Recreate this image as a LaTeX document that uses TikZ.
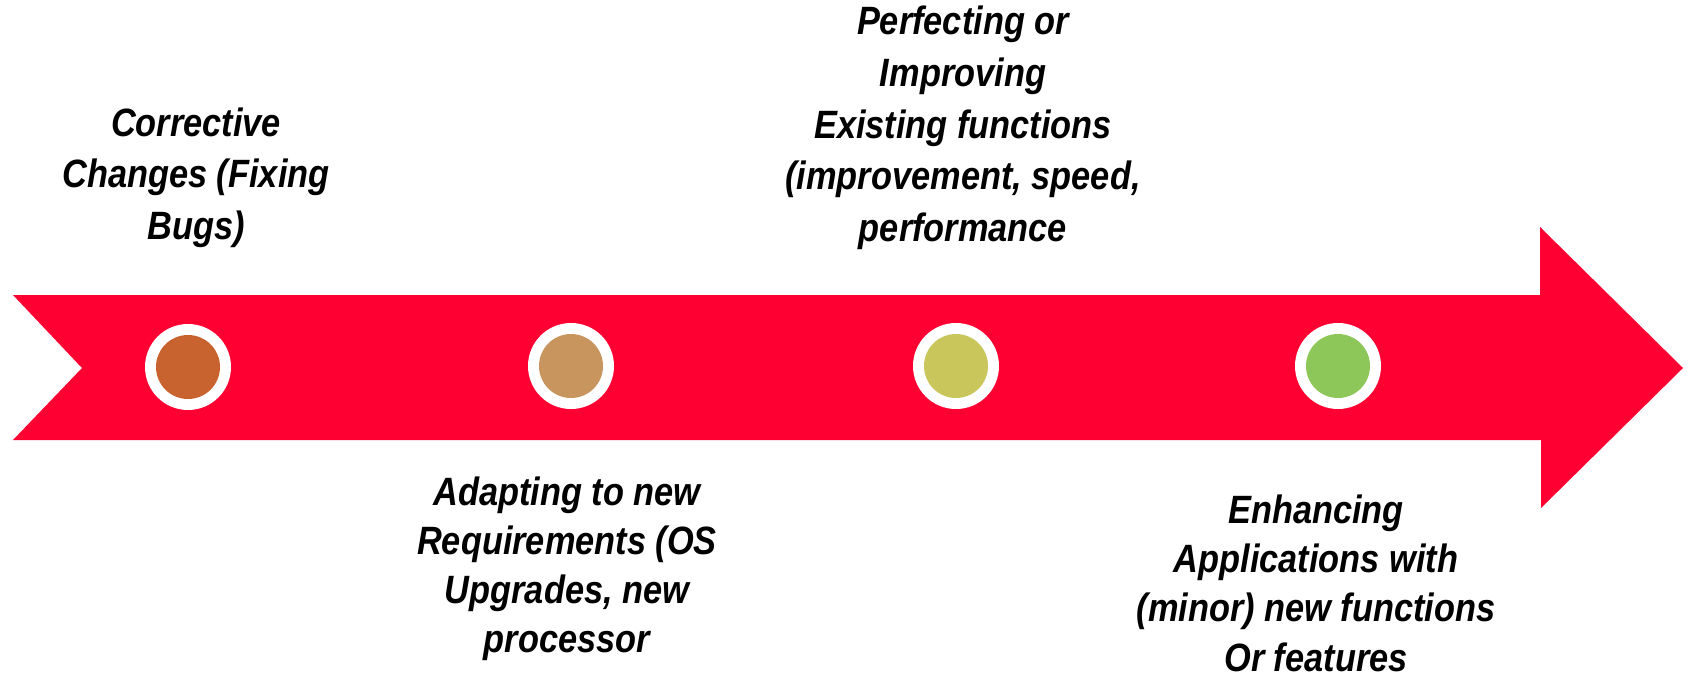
\documentclass[tikz,border=0pt]{standalone}
\usepackage{fontspec}
\setmainfont{Liberation Sans}
\definecolor{arrowred}{HTML}{FF0033}
\definecolor{dotA}{HTML}{C8622E}
\definecolor{dotB}{HTML}{C9955F}
\definecolor{dotC}{HTML}{C9C65C}
\definecolor{dotD}{HTML}{8DC759}
\newcommand\nrw[1]{\scalebox{0.87}[1]{#1}}
\begin{document}
\begin{tikzpicture}[x=1pt,y=-1pt,
  lbl/.style={anchor=base,inner sep=0pt,font=\fontsize{39.5}{50}\selectfont\bfseries\itshape},
  ring/.style={circle,fill=white,minimum size=86pt,inner sep=0pt},
  dot/.style={circle,minimum size=64pt,inner sep=0pt}]
\useasboundingbox (0,0) rectangle (1690,686);
\fill[white] (0,0) rectangle (1690,686);
% arrow
\fill[arrowred] (13,295) -- (1540,295) -- (1540,227) -- (1683,368) -- (1541,508) -- (1541,440) -- (13,440) -- (82,368) -- cycle;
% milestones
\node[ring] (r1) at (188,367) {};
\node[dot,fill=dotA] (d1) at (r1) {};
\node[ring] (r2) at (571,366) {};
\node[dot,fill=dotB] (d2) at (r2) {};
\node[ring] (r3) at (956,366) {};
\node[dot,fill=dotC] (d3) at (r3) {};
\node[ring] (r4) at (1338,366) {};
\node[dot,fill=dotD] (d4) at (r4) {};
% labels
\node[lbl] (t1a) at (196,136) {\nrw{Corrective}};
\node[lbl] (t1b) at (196,187.5) {\nrw{Changes (Fixing}};
\node[lbl] (t1c) at (196,239) {\nrw{Bugs)}};
\node[lbl] (t2a) at (567,505) {\nrw{Adapting to new}};
\node[lbl] (t2b) at (567,554) {\nrw{Requirements (OS}};
\node[lbl] (t2c) at (567,603) {\nrw{Upgrades, new}};
\node[lbl] (t2d) at (567,652) {\nrw{processor}};
\node[lbl] (t3a) at (963,34) {\nrw{Perfecting or}};
\node[lbl] (t3b) at (963,86) {\nrw{Improving}};
\node[lbl] (t3c) at (963,138) {\nrw{Existing functions}};
\node[lbl] (t3d) at (963,189) {\nrw{(improvement, speed,}};
\node[lbl] (t3e) at (963,241) {\nrw{performance}};
\node[lbl] (t4a) at (1316,523) {\nrw{Enhancing}};
\node[lbl] (t4b) at (1316,572) {\nrw{Applications with}};
\node[lbl] (t4c) at (1316,621) {\nrw{(minor) new functions}};
\node[lbl] (t4d) at (1316,671) {\nrw{Or features}};
\end{tikzpicture}
\end{document}
